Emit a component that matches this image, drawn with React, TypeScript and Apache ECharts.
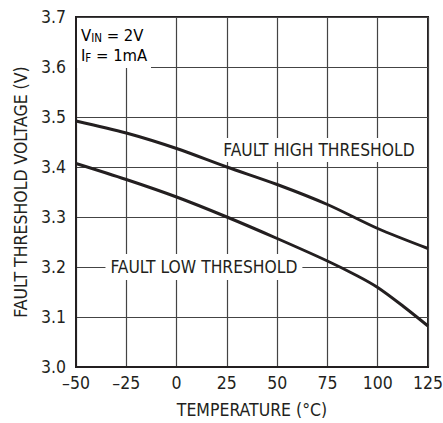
import React, { useEffect, useRef } from "react";
import * as echarts from "echarts";

const xTicks = [-50, -25, 0, 25, 50, 75, 100, 125];
const yTicks = [3.0, 3.1, 3.2, 3.3, 3.4, 3.5, 3.6, 3.7];

const highTemp = [-50, -25, 0, 25, 50, 75, 100, 125];
const highVolt = [3.492, 3.468, 3.437, 3.4, 3.365, 3.325, 3.277, 3.237];

const lowTemp = [-50, -25, 0, 25, 50, 75, 90, 100, 112.5, 125];
const lowVolt = [3.407, 3.375, 3.34, 3.3, 3.257, 3.212, 3.182, 3.159, 3.122, 3.082];

const highLabel = "FAULT HIGH THRESHOLD";
const lowLabel = "FAULT LOW THRESHOLD";
const highLabelAt = [70.8, 3.434];
const lowLabelAt = [13.6, 3.2];

const FONT = "'DejaVu Sans Condensed', 'Liberation Sans Narrow', sans-serif";
const INK = "#231f20";

export default function App() {
  const ref = useRef<HTMLDivElement>(null);
  useEffect(() => {
    const chart = echarts.init(ref.current!, null, { renderer: "svg" });
    const fmtX = (v: number) => (v < 0 ? "\u2013" + Math.abs(v) : String(v));
    const labelStyle = {
      show: true,
      formatter: "",
      color: INK,
      fontFamily: FONT,
      fontSize: 17.3,
      backgroundColor: "#fff",
      padding: [4, 5, 3, 5],
      position: "inside",
    };
    const rich = {
      m: { fontFamily: FONT, fontSize: 16.5, color: INK, lineHeight: 16, verticalAlign: "bottom" },
      s: { fontFamily: FONT, fontSize: 11.5, color: INK, lineHeight: 10, verticalAlign: "bottom" },
    };
    chart.setOption({
      animation: false,
      grid: {
        left: 76,
        right: 15,
        top: 17,
        bottom: 56,
        outerBoundsMode: "none",
        containLabel: false,
        show: true,
        borderColor: INK,
        borderWidth: 2,
        backgroundColor: "transparent",
      },
      xAxis: {
        type: "value",
        min: xTicks[0],
        max: xTicks[xTicks.length - 1],
        interval: 25,
        name: "TEMPERATURE (°C)",
        nameLocation: "middle",
        nameGap: 34,
        nameTextStyle: { color: INK, fontFamily: FONT, fontSize: 17.5 },
        axisLine: { show: true, onZero: false, lineStyle: { color: INK, width: 2 } },
        axisTick: { show: false },
        axisLabel: { color: INK, fontFamily: FONT, fontSize: 17.5, margin: 7, formatter: fmtX },
        splitLine: { show: true, lineStyle: { color: "#444", width: 1.2 } },
      },
      yAxis: {
        type: "value",
        min: yTicks[0],
        max: yTicks[yTicks.length - 1],
        interval: 0.1,
        name: "FAULT THRESHOLD VOLTAGE (V)",
        nameLocation: "middle",
        nameGap: 46,
        nameTextStyle: { color: INK, fontFamily: FONT, fontSize: 17.5 },
        axisLine: { show: true, onZero: false, lineStyle: { color: INK, width: 2 } },
        axisTick: { show: false },
        axisLabel: {
          color: INK,
          fontFamily: FONT,
          fontSize: 17.5,
          margin: 10,
          formatter: (v: number) => v.toFixed(1),
        },
        splitLine: { show: true, lineStyle: { color: "#444", width: 1.2 } },
      },
      series: [
        {
          type: "line",
          data: highTemp.map((t, i) => [t, highVolt[i]]),
          smooth: 0.3,
          symbol: "none",
          lineStyle: { color: INK, width: 3 },
          markPoint: {
            symbol: "rect",
            symbolSize: 0,
            silent: true,
            data: [
              {
                coord: highLabelAt,
                label: { ...labelStyle, formatter: highLabel },
              },
            ],
          },
        },
        {
          type: "line",
          data: lowTemp.map((t, i) => [t, lowVolt[i]]),
          smooth: 0.3,
          symbol: "none",
          lineStyle: { color: INK, width: 3 },
          markPoint: {
            symbol: "rect",
            symbolSize: 0,
            silent: true,
            data: [
              {
                coord: lowLabelAt,
                label: { ...labelStyle, formatter: lowLabel, padding: [5, 5, 4, 5] },
              },
            ],
          },
        },
      ],
      graphic: [
        {
          type: "rect",
          left: 77,
          top: 18,
          shape: { width: 74, height: 50 },
          style: { fill: "#fff" },
          z: 10,
        },
        {
          type: "text",
          left: 81,
          top: 27,
          z: 11,
          style: { text: "{m|V}{s|IN}{m| = 2V}", rich },
        },
        {
          type: "text",
          left: 81,
          top: 47,
          z: 11,
          style: { text: "{m|I}{s|F}{m| = 1mA}", rich },
        },
      ],
    });
    return () => chart.dispose();
  }, []);
  return (
    <div
      ref={ref}
      style={{ position: "fixed", left: 0, top: 0, width: 443, height: 423, background: "#fff" }}
    />
  );
}
